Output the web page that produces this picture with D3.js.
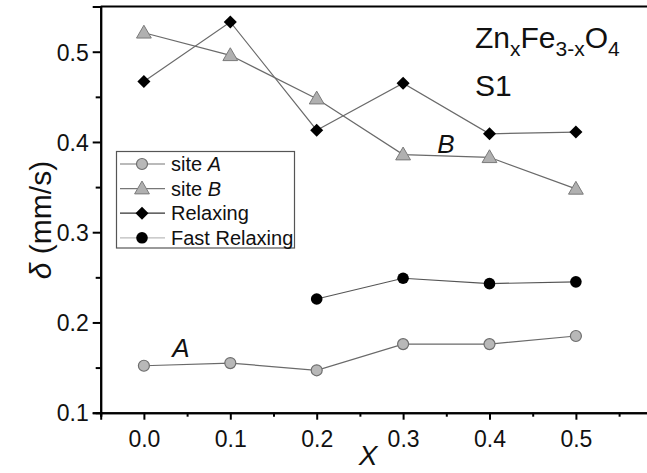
<!DOCTYPE html>
<html><head><meta charset="utf-8">
<script src="https://cdn.jsdelivr.net/npm/d3@7"></script>
<style>
body{margin:0;background:#fff;}
svg{display:block;font-family:"Liberation Sans",Arial,sans-serif;}
</style></head>
<body><svg id="c" width="647" height="473"></svg>
<script>
const xValues = [0.0, 0.1, 0.2, 0.3, 0.4, 0.5];
const siteA = [0.152, 0.155, 0.147, 0.176, 0.176, 0.185];
const siteB = [0.521, 0.496, 0.448, 0.386, 0.383, 0.348];
const relaxing = [0.467, 0.533, 0.413, 0.465, 0.409, 0.411];
const fastRelaxing = [null, null, 0.226, 0.249, 0.243, 0.245];
const xTicks = [0.0, 0.1, 0.2, 0.3, 0.4, 0.5];
const xMinorTicks = [-0.05, 0.05, 0.15, 0.25, 0.35, 0.45, 0.55];
const yTicks = [0.1, 0.2, 0.3, 0.4, 0.5];
const yMinorTicks = [0.15, 0.25, 0.35, 0.45];
const legendLabels = ["site A", "site B", "Relaxing", "Fast Relaxing"];

const svg = d3.select("#c");
const x = d3.scaleLinear().domain([-0.05, 0.6]).range([100.7, 662.3]);
const y = d3.scaleLinear().domain([0.1, 0.55]).range([412.7, 6.6]);

// frame
svg.append("line").attr("x1", x(-0.05)).attr("x2", x(0.6)).attr("y1", y(0.55)).attr("y2", y(0.55))
  .attr("stroke", "#000").attr("stroke-width", 2);
svg.append("line").attr("x1", x(0.6)).attr("x2", x(0.6)).attr("y1", y(0.55)).attr("y2", y(0.1))
  .attr("stroke", "#000").attr("stroke-width", 2);

// axes
const fmt = d3.format(".1f");
const gx = svg.append("g").attr("transform", `translate(0,${y(0.1)})`)
  .call(d3.axisBottom(x).tickValues(xTicks).tickFormat(fmt).tickSize(7).tickPadding(7));
const gxm = svg.append("g").attr("transform", `translate(0,${y(0.1)})`)
  .call(d3.axisBottom(x).tickValues(xMinorTicks).tickFormat("").tickSize(4));
const gy = svg.append("g").attr("transform", `translate(${x(-0.05)},0)`)
  .call(d3.axisLeft(y).tickValues(yTicks).tickFormat(fmt).tickSize(8).tickPadding(4));
const gym = svg.append("g").attr("transform", `translate(${x(-0.05)},0)`)
  .call(d3.axisLeft(y).tickValues(yMinorTicks).tickFormat("").tickSize(5));
[gx, gxm, gy, gym].forEach(g => {
  g.attr("font-size", 23).attr("font-family", "Liberation Sans, Arial, sans-serif");
  g.select(".domain").attr("stroke", "#000").attr("stroke-width", 2);
  g.selectAll(".tick line").attr("stroke", "#000").attr("stroke-width", 2);
  g.selectAll(".tick text").attr("fill", "#111");
});
gx.selectAll(".tick text").attr("dy", "0.9em");
gy.selectAll(".tick text").attr("dy", "0.36em");

// axis titles
svg.append("text").attr("x", 368).attr("y", 465).attr("text-anchor", "middle")
  .attr("font-size", 28).attr("font-style", "italic").attr("fill", "#111").text("X");
const yt = svg.append("text").attr("transform", "translate(51,220) rotate(-90)")
  .attr("text-anchor", "middle").attr("font-size", 30).attr("fill", "#111");
yt.append("tspan").attr("font-style", "italic").text("δ");
yt.append("tspan").text(" (mm/s)");

// series lines
const line = d3.line().defined(d => d[1] != null).x(d => x(d[0])).y(d => y(d[1]));
const pts = arr => xValues.map((v, i) => [v, arr[i]]);
const series = [
  {data: siteA, stroke: "#6a6a6a", kind: "circleGray"},
  {data: siteB, stroke: "#6a6a6a", kind: "triangle"},
  {data: relaxing, stroke: "#6a6a6a", kind: "diamond"},
  {data: fastRelaxing, stroke: "#555", kind: "circleBlack"}
];
series.forEach(s => {
  svg.append("path").datum(pts(s.data)).attr("d", line)
    .attr("fill", "none").attr("stroke", s.stroke).attr("stroke-width", 1.2);
});

function drawMarker(g, kind, cx, cy) {
  if (kind === "circleGray") {
    g.append("circle").attr("cx", cx).attr("cy", cy).attr("r", 5.5)
      .attr("fill", "#b8b8b8").attr("stroke", "#6e6e6e").attr("stroke-width", 1.2);
  } else if (kind === "circleBlack") {
    g.append("circle").attr("cx", cx).attr("cy", cy).attr("r", 5.8).attr("fill", "#000");
  } else if (kind === "triangle") {
    g.append("path").attr("d", d3.symbol(d3.symbolTriangle, 95)())
      .attr("transform", `translate(${cx},${cy + 1})`)
      .attr("fill", "#b0b0b0").attr("stroke", "#7a7a7a").attr("stroke-width", 1);
  } else if (kind === "diamond") {
    g.append("path").attr("d", d3.symbol(d3.symbolSquare, 85)())
      .attr("transform", `translate(${cx},${cy}) rotate(45)`).attr("fill", "#000");
  }
}
series.forEach(s => {
  const g = svg.append("g");
  pts(s.data).filter(d => d[1] != null).forEach(d => drawMarker(g, s.kind, x(d[0]), y(d[1])));
});

// annotations
svg.append("text").attr("x", 446).attr("y", 153).attr("text-anchor", "middle")
  .attr("font-size", 26).attr("font-style", "italic").attr("fill", "#111").text("B");
svg.append("text").attr("x", 181).attr("y", 357).attr("text-anchor", "middle")
  .attr("font-size", 26).attr("font-style", "italic").attr("fill", "#111").text("A");

// formula title
const t1 = svg.append("text").attr("x", 475).attr("y", 48).attr("font-size", 30).attr("fill", "#111");
t1.append("tspan").text("Zn");
t1.append("tspan").attr("font-size", 21).attr("dy", 8).text("x");
t1.append("tspan").attr("dy", -8).text("Fe");
t1.append("tspan").attr("font-size", 21).attr("dy", 8).text("3-x");
t1.append("tspan").attr("dy", -8).text("O");
t1.append("tspan").attr("font-size", 21).attr("dy", 8).text("4");
svg.append("text").attr("x", 475).attr("y", 96).attr("font-size", 30).attr("fill", "#111").text("S1");

// legend
const lg = svg.append("g");
lg.append("rect").attr("x", 116.5).attr("y", 151.5).attr("width", 178).attr("height", 96.5)
  .attr("fill", "#fff").attr("stroke", "#555").attr("stroke-width", 1.2);
const legendKinds = ["circleGray", "triangle", "diamond", "circleBlack"];
const legendStrokes = ["#777", "#777", "#333", "#bbb"];
legendLabels.forEach((lab, i) => {
  const cy = 164 + i * 24.6;
  lg.append("line").attr("x1", 120).attr("x2", 165).attr("y1", cy).attr("y2", cy)
    .attr("stroke", legendStrokes[i]).attr("stroke-width", 1.2);
  drawMarker(lg, legendKinds[i], 142, cy);
  const t = lg.append("text").attr("x", 171).attr("y", cy + 7).attr("font-size", 20).attr("fill", "#111");
  if (lab.startsWith("site ")) {
    t.append("tspan").text("site ");
    t.append("tspan").attr("font-style", "italic").text(lab.slice(5));
  } else {
    t.text(lab);
  }
});
</script>
</body></html>
